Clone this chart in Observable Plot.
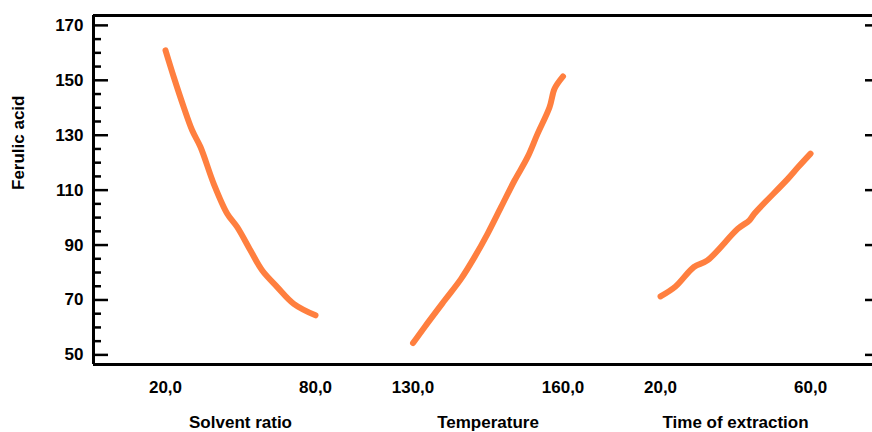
<!DOCTYPE html>
<html>
<head>
<meta charset="utf-8">
<script src="https://cdn.jsdelivr.net/npm/d3@7"></script>
<script src="https://cdn.jsdelivr.net/npm/@observablehq/plot@0.6"></script>
<style>
  html, body { margin: 0; padding: 0; background: #fff; }
  #chart { width: 872px; height: 432px; }
</style>
</head>
<body>
<div id="chart"></div>
<script>
// ---- data ----
const factorNames = ["Solvent ratio", "Temperature", "Time of extraction"];
const factorLow = [20, 130, 20];
const factorHigh = [80, 160, 60];
const tickLabels = ["20,0", "80,0", "130,0", "160,0", "20,0", "60,0"];

const solventX = [20, 23.3, 27.3, 30.7, 34, 39.3, 44.7, 48.7, 54, 58.7, 64.7, 71.3, 80];
const solventY = [160.9, 151.2, 140.2, 131.7, 125.7, 112.3, 101.4, 96.5, 88.0, 80.7, 74.7, 68.6, 64.4];
const tempX = [130, 132.3, 136.3, 139.6, 142.3, 144.9, 147.6, 150.3, 152.9, 154.9, 157.3, 158.3, 160];
const tempY = [54.3, 60.1, 69.8, 77.7, 85.6, 94.1, 103.8, 113.5, 122.0, 130.5, 140.2, 146.9, 151.4];
const timeX = [20, 24, 28.9, 32.5, 40.6, 43.7, 45.0, 54.0, 56.7, 60];
const timeY = [71.3, 74.9, 82.0, 84.4, 95.9, 99.0, 101.4, 114.2, 118.4, 123.3];

const yMajor = [50, 70, 90, 110, 130, 150, 170];
const yMinor = [55, 60, 65, 75, 80, 85, 95, 100, 105, 115, 120, 125, 135, 140, 145, 155, 160, 165];
const yLabel = "Ferulic acid";

// ---- layout ----
const segStep = 1.65;           // spacing between factor segments (in segment widths)
const xDomain = [-0.48, 4.713];
const yDomain = [46.5, 173.6];
const W = 872, H = 432, mL = 93, mR = 0, mT = 15, mB = 68;
const frameW = W - mL - mR;

const seriesX = [solventX, tempX, timeX];
const seriesY = [solventY, tempY, timeY];
const rows = [];
seriesX.forEach((xs, i) => xs.forEach((v, j) => rows.push({
  factor: factorNames[i],
  pos: i * segStep + (v - factorLow[i]) / (factorHigh[i] - factorLow[i]),
  value: seriesY[i][j]
})));
const tickRows = tickLabels.map((label, k) => ({pos: Math.floor(k / 2) * segStep + (k % 2), label}));
const titleRows = factorNames.map((name, i) => ({pos: i * segStep + 0.5, name}));

const font = {fontFamily: "'Liberation Sans', Arial, sans-serif", fontWeight: "bold", fontSize: 17, fill: "#000"};

const chart = Plot.plot({
  width: W, height: H,
  marginLeft: mL, marginRight: mR, marginTop: mT, marginBottom: mB,
  style: {fontFamily: "'Liberation Sans', Arial, sans-serif", background: "#fff"},
  x: {domain: xDomain, axis: null},
  y: {domain: yDomain, axis: null},
  marks: [
    // minor ticks (left, inward)
    Plot.tickY(yMinor, {y: d => d, insetRight: frameW - 8, stroke: "#000", strokeWidth: 2.5}),
    // major ticks (left, inward)
    Plot.tickY(yMajor, {y: d => d, insetRight: frameW - 15, stroke: "#000", strokeWidth: 2.5}),
    // right ticks
    Plot.tickY(yMajor, {y: d => d, insetLeft: frameW - 7, stroke: "#000", strokeWidth: 2.5}),
    // axis lines
    Plot.ruleX([xDomain[0]], {stroke: "#000", strokeWidth: 3}),
    Plot.ruleY([yDomain[0], yDomain[1]], {stroke: "#000", strokeWidth: 3}),
    // y tick labels
    Plot.text(yMajor, {y: d => d, text: d => String(d), frameAnchor: "left", dx: -10, textAnchor: "end", ...font}),
    // y title
    Plot.text([yLabel], {frameAnchor: "left", dx: -75, rotate: -90, text: d => d, ...font}),
    // x tick labels
    Plot.text(tickRows, {x: "pos", text: "label", frameAnchor: "bottom", dy: 28, ...font}),
    // x factor titles
    Plot.text(titleRows, {x: "pos", text: "name", frameAnchor: "bottom", dy: 63, ...font}),
    // main effect lines
    Plot.line(rows, {x: "pos", y: "value", z: "factor", curve: "catmull-rom", stroke: "#ff7f3f", strokeWidth: 6,
      strokeLinecap: "round", strokeLinejoin: "round"})
  ]
});
document.getElementById("chart").appendChild(chart);
</script>
</body>
</html>
